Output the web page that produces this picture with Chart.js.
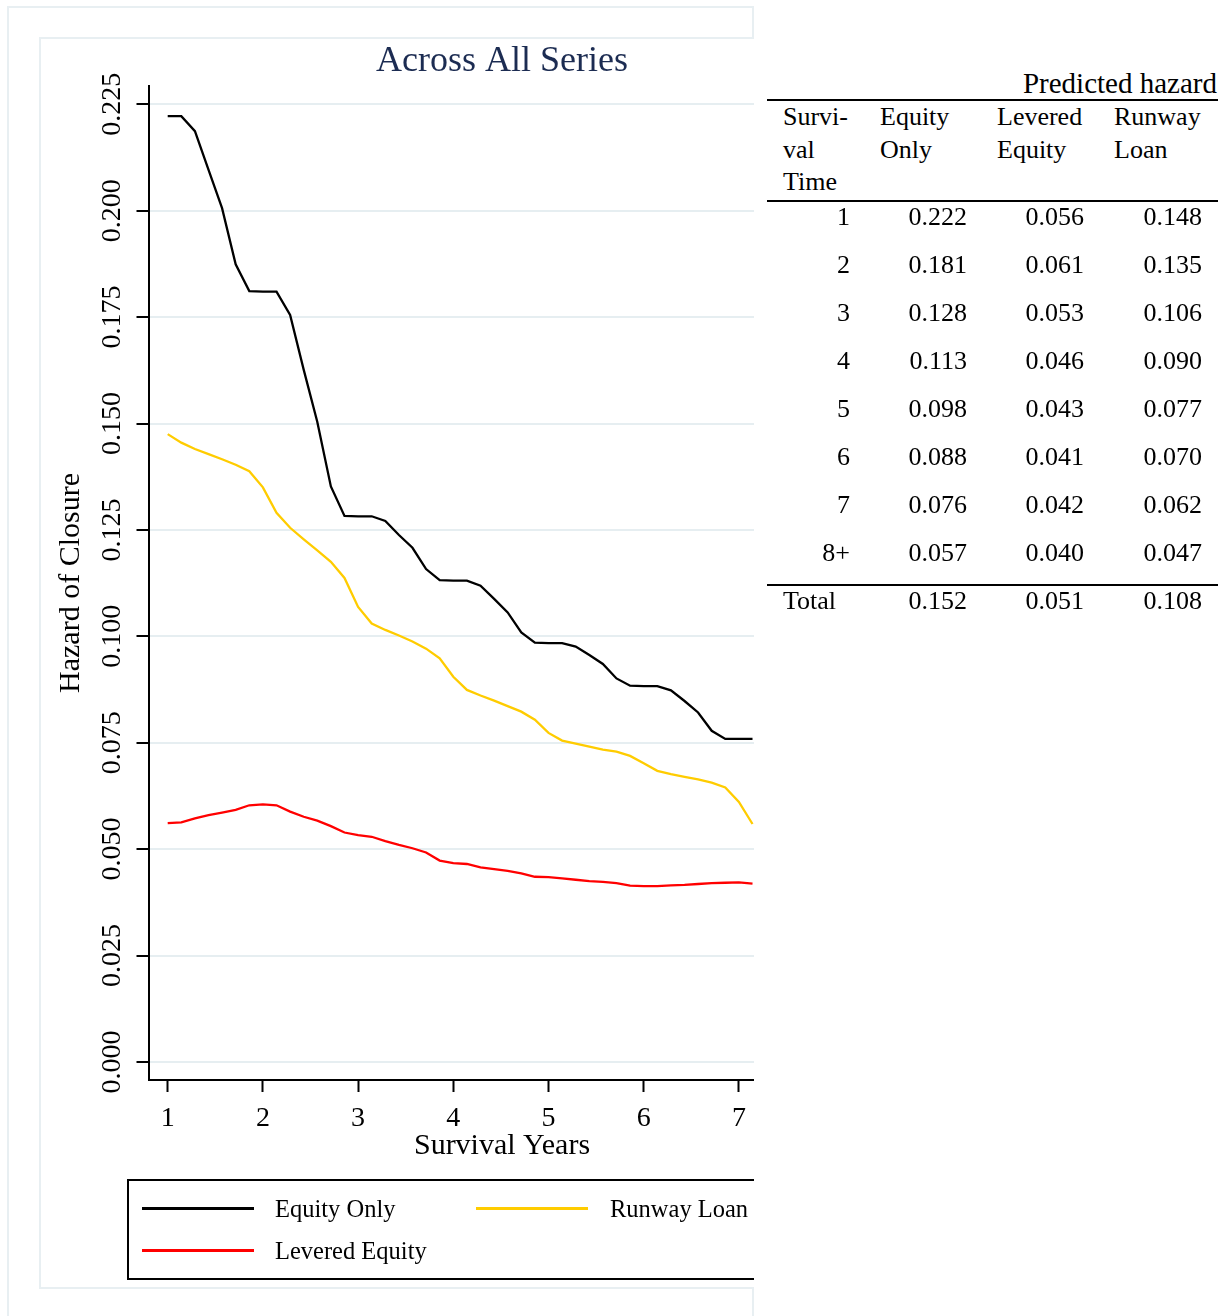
<!DOCTYPE html>
<html>
<head>
<meta charset="utf-8">
<script src="https://cdn.jsdelivr.net/npm/chart.js@4.4.1/dist/chart.umd.min.js"></script>
<style>
  html, body { margin:0; padding:0; background:#fff; width:1229px; height:1316px; overflow:hidden;
    font-family:"Liberation Serif","Times New Roman",serif; color:#000; }
  #clip { position:absolute; left:0; top:0; width:754px; height:1316px; overflow:hidden; }
  #outer { position:absolute; left:7px; top:6px; width:747px; height:1400px; border:2px solid #e8eff2; box-sizing:border-box; }
  #inner { position:absolute; left:39px; top:37px; width:900px; height:1252px; border:2px solid #e8eff2; box-sizing:border-box; background:#fff; }
  #chartWrap { position:absolute; left:0; top:0; width:1004px; height:1300px; }
  #legendBox { position:absolute; left:127px; top:1179px; width:750px; height:101px; border:2px solid #000; box-sizing:border-box; }
  .lgLine { position:absolute; height:3px; }
  .lgText { position:absolute; font-size:24px; line-height:24px; white-space:nowrap; }
  .t { position:absolute; font-size:26px; line-height:26px; white-space:nowrap; }
  .tr { text-align:right; width:120px; }
  .rule { position:absolute; left:767px; width:451px; height:2px; background:#000; }
</style>
</head>
<body>
<div id="clip">
  <div id="outer"></div>
  <div id="inner"></div>
  <div id="chartWrap"><canvas id="c" width="1004" height="1300" style="width:1004px;height:1300px"></canvas></div>
  <div id="legendBox"></div>
  <div id="legendItems"></div>
</div>
<div id="table"></div>
<script>
// ---- Data ----
const years = [1, 1.143, 1.286, 1.429, 1.571, 1.714, 1.857, 2, 2.143, 2.286, 2.429, 2.571, 2.714, 2.857,
  3, 3.143, 3.286, 3.429, 3.571, 3.714, 3.857, 4, 4.143, 4.286, 4.429, 4.571, 4.714, 4.857,
  5, 5.143, 5.286, 5.429, 5.571, 5.714, 5.857, 6, 6.143, 6.286, 6.429, 6.571, 6.714, 6.857, 7, 7.143];

const equityOnly = [0.2222, 0.2222, 0.2187, 0.2096, 0.2006, 0.1874, 0.1811, 0.1810, 0.1810, 0.1755,
  0.1626, 0.1504, 0.1352, 0.1283, 0.1282, 0.1282, 0.1271, 0.1238, 0.1208, 0.1158,
  0.1132, 0.1131, 0.1131, 0.1119, 0.1088, 0.1056, 0.1009, 0.0985, 0.0984, 0.0984,
  0.0976, 0.0956, 0.0935, 0.0901, 0.0884, 0.0883, 0.0883, 0.0873, 0.0848, 0.0821,
  0.0778, 0.0759, 0.0759, 0.0759];

const leveredEquity = [0.0561, 0.0563, 0.0572, 0.0580, 0.0586, 0.0592, 0.0603, 0.0605, 0.0603, 0.0588,
  0.0576, 0.0567, 0.0554, 0.0539, 0.0533, 0.0529, 0.0519, 0.0510, 0.0502, 0.0492,
  0.0473, 0.0467, 0.0465, 0.0457, 0.0453, 0.0449, 0.0443, 0.0435, 0.0434, 0.0431,
  0.0428, 0.0425, 0.0423, 0.0420, 0.0414, 0.0413, 0.0413, 0.0415, 0.0416, 0.0418,
  0.0420, 0.0421, 0.0422, 0.0419];

const runwayLoan = [0.1475, 0.1455, 0.1440, 0.1428, 0.1416, 0.1403, 0.1388, 0.1350, 0.1290, 0.1255,
  0.1228, 0.1202, 0.1175, 0.1137, 0.1069, 0.1030, 0.1015, 0.1002, 0.0988, 0.0971,
  0.0948, 0.0905, 0.0874, 0.0861, 0.0849, 0.0836, 0.0823, 0.0804, 0.0773, 0.0755,
  0.0748, 0.0741, 0.0734, 0.0729, 0.0719, 0.0702, 0.0684, 0.0676, 0.0670, 0.0664,
  0.0656, 0.0645, 0.0611, 0.0559];

const seriesNames = ['Equity Only', 'Levered Equity', 'Runway Loan'];
const seriesColors = ['#000000', '#ff0000', '#ffcc00'];

const yTickValues = [0, 0.025, 0.05, 0.075, 0.1, 0.125, 0.15, 0.175, 0.2, 0.225];
const xTickValues = [1, 2, 3, 4, 5, 6, 7, 8];

// table (right side)
const tableHeading = 'Predicted hazard';
const tableColHeads = [['Survi-', 'val', 'Time'], ['Equity', 'Only'], ['Levered', 'Equity'], ['Runway', 'Loan']];
const tableRowLabels = ['1', '2', '3', '4', '5', '6', '7', '8+'];
const tableEquityOnly = ['0.222', '0.181', '0.128', '0.113', '0.098', '0.088', '0.076', '0.057'];
const tableLevered = ['0.056', '0.061', '0.053', '0.046', '0.043', '0.041', '0.042', '0.040'];
const tableRunway = ['0.148', '0.135', '0.106', '0.090', '0.077', '0.070', '0.062', '0.047'];
const tableTotalLabel = 'Total';
const tableTotals = ['0.152', '0.051', '0.108'];

// ---- Chart ----
const serif = 'Liberation Serif';
const seriesValues = [equityOnly, leveredEquity, runwayLoan];
const datasets = seriesNames.map((name, i) => ({
  label: name,
  data: years.map((x, k) => ({ x: x, y: seriesValues[i][k] })),
  borderColor: seriesColors[i],
  backgroundColor: seriesColors[i],
  borderWidth: 2.3,
  pointRadius: 0,
  tension: 0,
  fill: false
}));

const legendPlugin = {
  id: 'htmlLegend',
  afterUpdate(chart) {
    const host = document.getElementById('legendItems');
    host.innerHTML = '';
    const sampleLeft = [142, 476];
    const textLeft = [275, 610];
    const rowY = [1208, 1250];
    chart.data.datasets.forEach((ds, i) => {
      const col = Math.floor(i / 2), row = i % 2;
      const ln = document.createElement('div');
      ln.className = 'lgLine';
      ln.style.left = sampleLeft[col] + 'px';
      ln.style.width = '112px';
      ln.style.top = (rowY[row] - 1.5) + 'px';
      ln.style.background = ds.borderColor;
      host.appendChild(ln);
      const tx = document.createElement('div');
      tx.className = 'lgText';
      tx.style.left = textLeft[col] + 'px';
      tx.style.top = (rowY[row] - 11) + 'px';
      tx.style.fontSize = '24.5px';
      tx.textContent = ds.label;
      host.appendChild(tx);
    });
  }
};

new Chart(document.getElementById('c'), {
  type: 'line',
  data: { datasets: datasets },
  plugins: [legendPlugin],
  options: {
    responsive: false,
    animation: false,
    devicePixelRatio: 1,
    layout: { padding: { left: 40, right: 148.5, top: 0, bottom: 130 }, autoPadding: false },
    plugins: {
      legend: { display: false },
      tooltip: { enabled: false },
      title: {
        display: true, text: 'Across All Series', fullSize: false, color: '#1c2c52',
        font: { family: serif, size: 36, weight: 'normal', lineHeight: 1.2 },
        padding: { top: 40.4, bottom: 2.4 }
      }
    },
    scales: {
      x: {
        type: 'linear', min: 0.7983, max: 8.2248,
        afterBuildTicks: s => { s.ticks = xTickValues.map(v => ({ value: v })); },
        afterFit: s => { s.height = 90; s.paddingLeft = 0; s.paddingRight = 0; },
        grid: { drawOnChartArea: false, drawTicks: true, tickLength: 12, tickColor: '#000', tickWidth: 2 },
        border: { display: true, color: '#000', width: 2 },
        ticks: { color: '#000', font: { family: serif, size: 28 }, padding: 10, minRotation: 0, maxRotation: 0,
                 autoSkip: false, callback: v => String(v) },
        title: { display: true, text: 'Survival Years', color: '#000',
                 font: { family: serif, size: 30, lineHeight: 1.2 }, padding: { top: 0, bottom: 6 } }
      },
      y: {
        type: 'linear', min: -0.00425, max: 0.2293,
        afterBuildTicks: s => { s.ticks = yTickValues.map(v => ({ value: v })); },
        afterFit: s => { s.width = 108.5; s.paddingTop = 0; s.paddingBottom = 0; },
        grid: { color: '#e6eef1', lineWidth: 2, drawTicks: true, tickLength: 12, tickColor: '#000', tickWidth: 2 },
        border: { display: true, color: '#000', width: 2 },
        ticks: { color: '#000', font: { family: serif, size: 28 }, padding: -8, minRotation: 90, maxRotation: 90,
                 crossAlign: 'center', autoSkip: false, callback: v => v.toFixed(3) },
        title: { display: true, text: 'Hazard of Closure', color: '#000',
                 font: { family: serif, size: 30, lineHeight: 1.2 }, padding: { top: 13, bottom: 0 } }
      }
    }
  }
});

// ---- Table (HTML text) ----
(function buildTable() {
  const host = document.getElementById('table');
  function add(text, left, centerY, cls, size) {
    const d = document.createElement('div');
    d.className = 't' + (cls ? ' ' + cls : '');
    if (size) { d.style.fontSize = size + 'px'; d.style.lineHeight = size + 'px'; }
    const fs = size || 26;
    d.style.left = left + 'px';
    d.style.top = (centerY - fs / 2) + 'px';
    d.textContent = text;
    host.appendChild(d);
  }
  function rule(y) {
    const r = document.createElement('div');
    r.className = 'rule';
    r.style.top = (y - 1) + 'px';
    host.appendChild(r);
  }
  const h = document.createElement('div');
  h.className = 't';
  h.style.fontSize = '29px'; h.style.lineHeight = '29px';
  h.style.left = '917px'; h.style.width = '300px'; h.style.textAlign = 'right';
  h.style.top = (83 - 14.5) + 'px';
  h.textContent = tableHeading;
  host.appendChild(h);
  rule(100);
  const headLeft = [783, 880, 997, 1114];
  const headY = [117, 150, 182];
  tableColHeads.forEach((lines, c) => lines.forEach((t, r) => add(t, headLeft[c], headY[r])));
  rule(201);
  const rowY = [217, 265, 313, 361, 409, 457, 505, 553];
  const rights = [850, 967, 1084, 1202];
  const cols = [tableRowLabels, tableEquityOnly, tableLevered, tableRunway];
  cols.forEach((col, c) => col.forEach((t, r) => add(t, rights[c] - 120, rowY[r], 'tr')));
  rule(585);
  add(tableTotalLabel, 783, 601);
  tableTotals.forEach((t, c) => add(t, rights[c + 1] - 120, 601, 'tr'));
})();
</script>
</body>
</html>
